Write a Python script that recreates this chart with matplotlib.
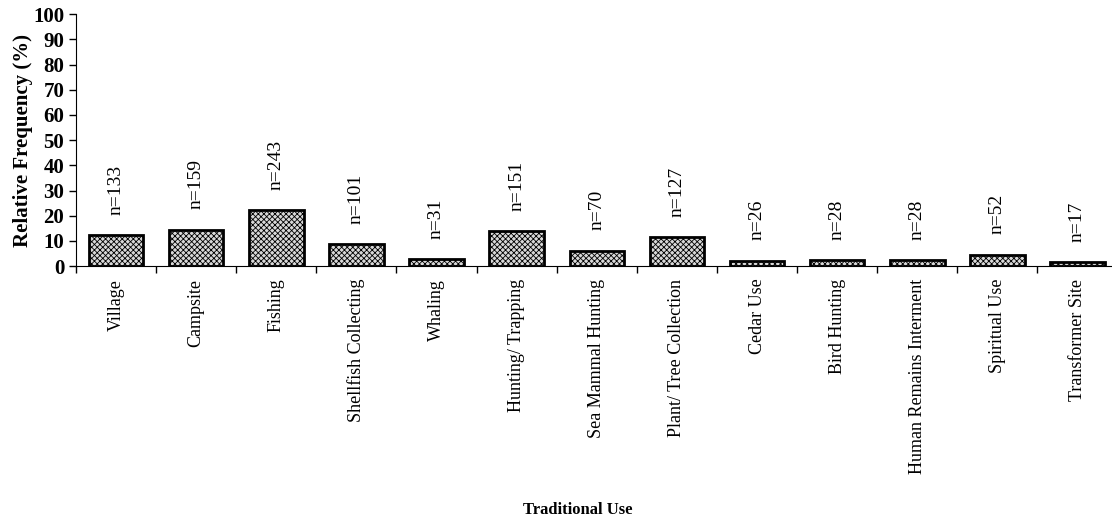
import matplotlib
matplotlib.use("Agg")
import matplotlib.pyplot as plt
import numpy as np

# ── Data ────────────────────────────────────────────────────────────────────
categories = [
    "Village", "Campsite", "Fishing", "Shellfish Collecting", "Whaling",
    "Hunting/ Trapping", "Sea Mammal Hunting", "Plant/ Tree Collection",
    "Cedar Use", "Bird Hunting", "Human Remains Interment", "Spiritual Use",
    "Transformer Site",
]
rel_freq = [12.4, 14.5, 22.3, 8.9, 2.7, 13.8, 6.2, 11.5, 2.2, 2.4, 2.4, 4.6, 1.5]
counts = [133, 159, 243, 101, 31, 151, 70, 127, 26, 28, 28, 52, 17]

plt.rcParams["font.family"] = ["Liberation Serif", "DejaVu Serif"]
plt.rcParams["hatch.linewidth"] = 0.6

fig = plt.figure(figsize=(11.12, 5.26), dpi=100)
ax = fig.add_axes([0.0683, 0.494, 0.9317, 0.479])

x = np.arange(len(categories))
ax.bar(x, rel_freq, width=0.68, color="#d8d8d8", edgecolor="black",
       linewidth=2.0, hatch="xxxxxx", zorder=2)

for xi, v, n in zip(x, rel_freq, counts):
    ax.text(xi, v + 8, f"n={n}", rotation=90, ha="center", va="bottom",
            fontsize=14)

ax.set_xlim(-0.5, 12.43)
ax.set_ylim(0, 100)
ax.set_yticks(range(0, 101, 10))
ax.tick_params(axis="y", labelsize=15, length=5, width=1, direction="out")
for lbl in ax.get_yticklabels():
    lbl.set_fontweight("bold")

# ticks at category boundaries, labels at centres
ax.set_xticks(np.arange(-0.5, 12.5, 1.0))
ax.set_xticklabels([])
ax.tick_params(axis="x", which="major", length=5, width=1, direction="out")
ax.set_xticks(x, minor=True)
ax.set_xticklabels(categories, minor=True, rotation=90, fontsize=13)
ax.tick_params(axis="x", which="minor", length=0, pad=9)

ax.spines["top"].set_visible(False)
ax.spines["right"].set_visible(False)

ax.set_ylabel("Relative Frequency (%)", fontsize=15, fontweight="bold", labelpad=0)
fig.text(0.52, 0.03, "Traditional Use", ha="center", va="center",
         fontsize=12, fontweight="bold")

fig.savefig("out.png", dpi=100)
